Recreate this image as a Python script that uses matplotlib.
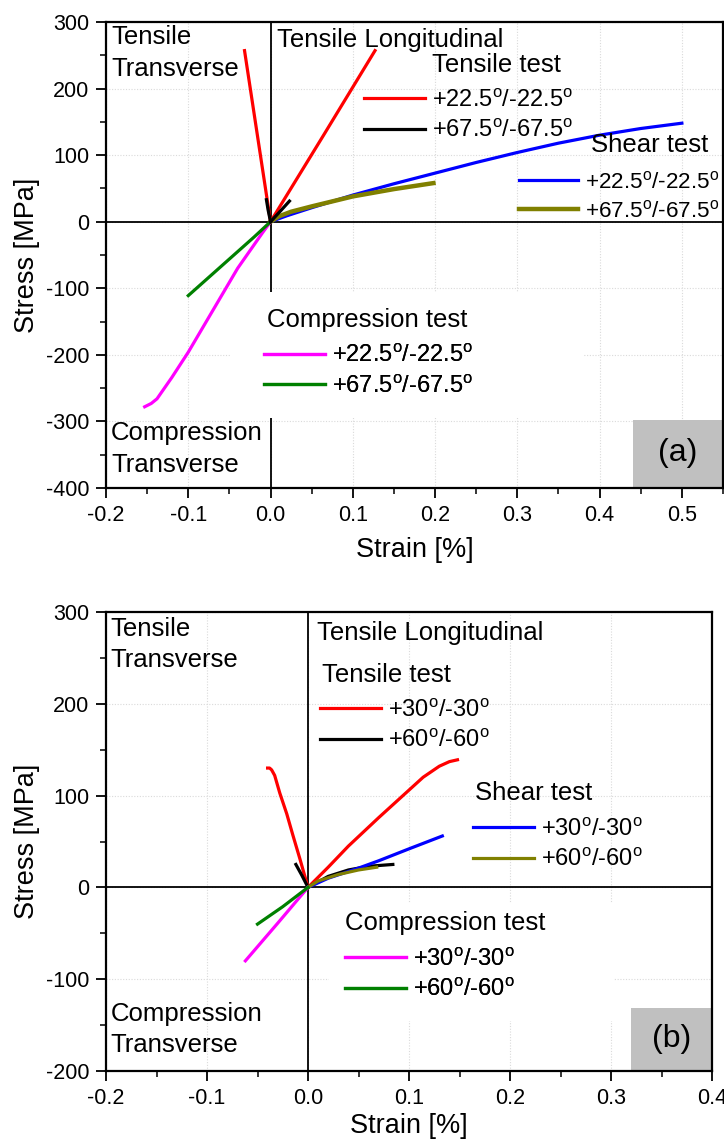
#!/usr/bin/env python3

import matplotlib

matplotlib.use("Agg")
import matplotlib.pyplot as plt
from matplotlib.patches import Rectangle
from matplotlib.ticker import FormatStrFormatter, MultipleLocator

plt.rcParams["font.family"] = ["Liberation Sans", "DejaVu Sans"]
plt.rcParams["mathtext.fontset"] = "custom"
plt.rcParams["mathtext.rm"] = "Liberation Sans"
plt.rcParams["axes.unicode_minus"] = False

# ---- panel (a): +22.5/-22.5 and +67.5/-67.5 laminates ----
a_ten_22_long_strain = [0.0, 0.064, 0.127]
a_ten_22_long_stress = [0, 129, 257]
a_ten_22_trans_strain = [0.0, -0.016, -0.0316]
a_ten_22_trans_stress = [0, 130, 257]
a_ten_67_long_strain = [0.0, 0.012, 0.023]
a_ten_67_long_stress = [0, 16, 31]
a_ten_67_trans_strain = [0.0, -0.003, -0.005]
a_ten_67_trans_stress = [0, 18, 33]
a_shear_22_strain = [0.0, 0.02, 0.05, 0.1, 0.15, 0.2, 0.25, 0.3, 0.35, 0.4, 0.45, 0.5]
a_shear_22_stress = [0, 9, 21, 40, 57, 73, 89, 104, 118, 130, 140, 148]
a_shear_67_strain = [0.0, 0.01, 0.025, 0.05, 0.1, 0.15, 0.198]
a_shear_67_stress = [0, 8, 15, 23, 38, 49, 58]
a_comp_22_strain = [0.0, -0.01, -0.04, -0.07, -0.1, -0.12, -0.138, -0.145, -0.153]
a_comp_22_stress = [0, -17, -70, -133, -196, -234, -266, -273, -278]
a_comp_67_strain = [0.0, -0.02, -0.04, -0.06, -0.08, -0.1]
a_comp_67_stress = [0, -23, -45, -67, -89, -111]
a_labels = [r"+22.5$^{\rm o}$/-22.5$^{\rm o}$", r"+67.5$^{\rm o}$/-67.5$^{\rm o}$"]

# ---- panel (b): +30/-30 and +60/-60 laminates ----
b_ten_30_long_strain = [0.0, 0.02, 0.04, 0.07, 0.1, 0.114, 0.13, 0.14, 0.148]
b_ten_30_long_stress = [0, 22, 45, 76, 106, 120, 132, 137, 139]
b_ten_30_trans_strain = [0.0, -0.008, -0.015, -0.021, -0.028, -0.033, -0.036, -0.038, -0.040]
b_ten_30_trans_stress = [0, 31, 57, 80, 103, 122, 128, 130, 130]
b_ten_60_long_strain = [0.0, 0.02, 0.04, 0.06, 0.084]
b_ten_60_long_stress = [0, 12, 19, 23, 25]
b_ten_60_trans_strain = [0.0, -0.006, -0.012]
b_ten_60_trans_stress = [0, 13, 25]
b_shear_30_strain = [0.0, 0.02, 0.05, 0.07, 0.1, 0.133]
b_shear_30_stress = [0, 10, 21, 29, 42, 56]
b_shear_60_strain = [0.0, 0.01, 0.03, 0.05, 0.068]
b_shear_60_stress = [0, 7, 14, 19, 22]
b_comp_30_strain = [0.0, -0.03, -0.062]
b_comp_30_stress = [0, -39, -80]
b_comp_60_strain = [0.0, -0.025, -0.05]
b_comp_60_stress = [0, -21, -40]
b_labels = [r"+30$^{\rm o}$/-30$^{\rm o}$", r"+60$^{\rm o}$/-60$^{\rm o}$"]

RED = "#ff0000"
BLACK = "#000000"
BLUE = "#0000ff"
OLIVE = "#808000"
MAGENTA = "#ff00ff"
GREEN = "#008000"

LW = 2.3
TEXT_SIZE = 18.5
LEGEND_SIZE = 17


def style_axes(ax, xlim, ylim, xstep, ystep, xlabelpad):
    ax.set_xlim(*xlim)
    ax.set_ylim(*ylim)
    ax.xaxis.set_major_locator(MultipleLocator(xstep))
    ax.xaxis.set_minor_locator(MultipleLocator(xstep / 2))
    ax.yaxis.set_major_locator(MultipleLocator(ystep))
    ax.yaxis.set_minor_locator(MultipleLocator(ystep / 2))
    ax.xaxis.set_major_formatter(FormatStrFormatter("%.1f"))
    ax.tick_params(which="major", direction="out", length=7, width=1.3, labelsize=15.5, pad=5)
    ax.tick_params(which="minor", direction="out", length=4, width=1.1)
    ax.set_axisbelow(True)
    ax.grid(True, which="major", color="#dadada", linestyle=(0, (1, 1.5)), linewidth=0.8)
    ax.axhline(0, color="black", lw=1.3, zorder=1.5)
    ax.axvline(0, color="black", lw=1.3, zorder=1.5)
    for spine in ax.spines.values():
        spine.set_linewidth(1.6)
    ax.set_xlabel("Strain [%]", fontsize=19.5, labelpad=xlabelpad)
    ax.set_ylabel("Stress [MPa]", fontsize=19.5, labelpad=4)


def add_legend(ax, handles, labels, anchor, size=LEGEND_SIZE):
    leg = ax.legend(
        handles,
        labels,
        loc="center left",
        bbox_to_anchor=anchor,
        frameon=False,
        fontsize=size,
        handlelength=2.6,
        handletextpad=0.3,
        labelspacing=0.32,
        borderpad=0,
        borderaxespad=0,
    )
    ax.add_artist(leg)


def put_text(ax, x, y, s, size=TEXT_SIZE, va="center"):
    ax.text(x, y, s, transform=ax.transAxes, fontsize=size, ha="left", va=va, linespacing=1.4)


def draw_panel_a(ax):
    style_axes(ax, (-0.2, 0.55), (-400, 300), 0.1, 100, 8)

    ax.add_patch(Rectangle((0.2023, 0.150), 0.571, 0.271, transform=ax.transAxes,
                           facecolor="white", edgecolor="none", zorder=1.8))
    ax.add_patch(Rectangle((0.854, 0.0), 0.146, 0.146, transform=ax.transAxes,
                           facecolor="#c0c0c0", edgecolor="none", zorder=1.9))

    red, = ax.plot(a_ten_22_long_strain, a_ten_22_long_stress, color=RED, lw=LW, zorder=3)
    ax.plot(a_ten_22_trans_strain, a_ten_22_trans_stress, color=RED, lw=LW, zorder=3)
    blue, = ax.plot(a_shear_22_strain, a_shear_22_stress, color=BLUE, lw=LW, zorder=3)
    olive, = ax.plot(a_shear_67_strain, a_shear_67_stress, color=OLIVE, lw=3.2, zorder=3)
    mag, = ax.plot(a_comp_22_strain, a_comp_22_stress, color=MAGENTA, lw=LW, zorder=3)
    green, = ax.plot(a_comp_67_strain, a_comp_67_stress, color=GREEN, lw=LW, zorder=3)
    black, = ax.plot(a_ten_67_long_strain, a_ten_67_long_stress, color=BLACK, lw=LW, zorder=4)
    ax.plot(a_ten_67_trans_strain, a_ten_67_trans_stress, color=BLACK, lw=LW, zorder=4)

    put_text(ax, 0.008, 0.993, "Tensile\nTransverse", va="top")
    put_text(ax, 0.277, 0.961, "Tensile Longitudinal")
    put_text(ax, 0.008, 0.084, "Compression\nTransverse")
    put_text(ax, 0.529, 0.908, "Tensile test")
    put_text(ax, 0.786, 0.736, "Shear test")
    put_text(ax, 0.2605, 0.3605, "Compression test")
    ax.text(0.927, 0.075, "(a)", transform=ax.transAxes, fontsize=23, ha="center", va="center")

    add_legend(ax, [red, black], a_labels, (0.4175, 0.7994))
    add_legend(ax, [blue, olive], a_labels, (0.670, 0.6255), size=16.2)
    add_legend(ax, [mag, green], a_labels, (0.2557, 0.251))


def draw_panel_b(ax):
    style_axes(ax, (-0.2, 0.4), (-200, 300), 0.1, 100, 3)

    ax.add_patch(Rectangle((0.368, 0.11), 0.47, 0.255, transform=ax.transAxes,
                           facecolor="white", edgecolor="none", zorder=1.8))
    ax.add_patch(Rectangle((0.867, 0.0), 0.133, 0.137, transform=ax.transAxes,
                           facecolor="#c0c0c0", edgecolor="none", zorder=1.9))

    red, = ax.plot(b_ten_30_long_strain, b_ten_30_long_stress, color=RED, lw=LW, zorder=3)
    ax.plot(b_ten_30_trans_strain, b_ten_30_trans_stress, color=RED, lw=LW, zorder=3)
    black, = ax.plot(b_ten_60_long_strain, b_ten_60_long_stress, color=BLACK, lw=LW, zorder=3)
    ax.plot(b_ten_60_trans_strain, b_ten_60_trans_stress, color=BLACK, lw=LW, zorder=3)
    blue, = ax.plot(b_shear_30_strain, b_shear_30_stress, color=BLUE, lw=LW, zorder=3)
    olive, = ax.plot(b_shear_60_strain, b_shear_60_stress, color=OLIVE, lw=LW, zorder=4)
    mag, = ax.plot(b_comp_30_strain, b_comp_30_stress, color=MAGENTA, lw=LW, zorder=3)
    green, = ax.plot(b_comp_60_strain, b_comp_60_stress, color=GREEN, lw=LW, zorder=4)

    put_text(ax, 0.008, 0.990, "Tensile\nTransverse", va="top")
    put_text(ax, 0.348, 0.954, "Tensile Longitudinal")
    put_text(ax, 0.008, 0.090, "Compression\nTransverse")
    put_text(ax, 0.356, 0.8627, "Tensile test")
    put_text(ax, 0.609, 0.6057, "Shear test")
    put_text(ax, 0.394, 0.3224, "Compression test")
    ax.text(0.933, 0.07, "(b)", transform=ax.transAxes, fontsize=23, ha="center", va="center")

    add_legend(ax, [red, black], b_labels, (0.353, 0.7527))
    add_legend(ax, [blue, olive], b_labels, (0.6056, 0.4935))
    add_legend(ax, [mag, green], b_labels, (0.394, 0.2102))


def main() -> int:
    fig = plt.figure(figsize=(7.24, 11.42), dpi=100)
    W, H = 724.0, 1142.0

    ax_a = fig.add_axes([106 / W, 1 - 488 / H, 617 / W, 466 / H])
    ax_b = fig.add_axes([106 / W, 1 - 1071 / H, 606 / W, 459 / H])

    draw_panel_a(ax_a)
    draw_panel_b(ax_b)

    fig.savefig("out.png", dpi=100)
    plt.close(fig)
    return 0


if __name__ == "__main__":
    raise SystemExit(main())
